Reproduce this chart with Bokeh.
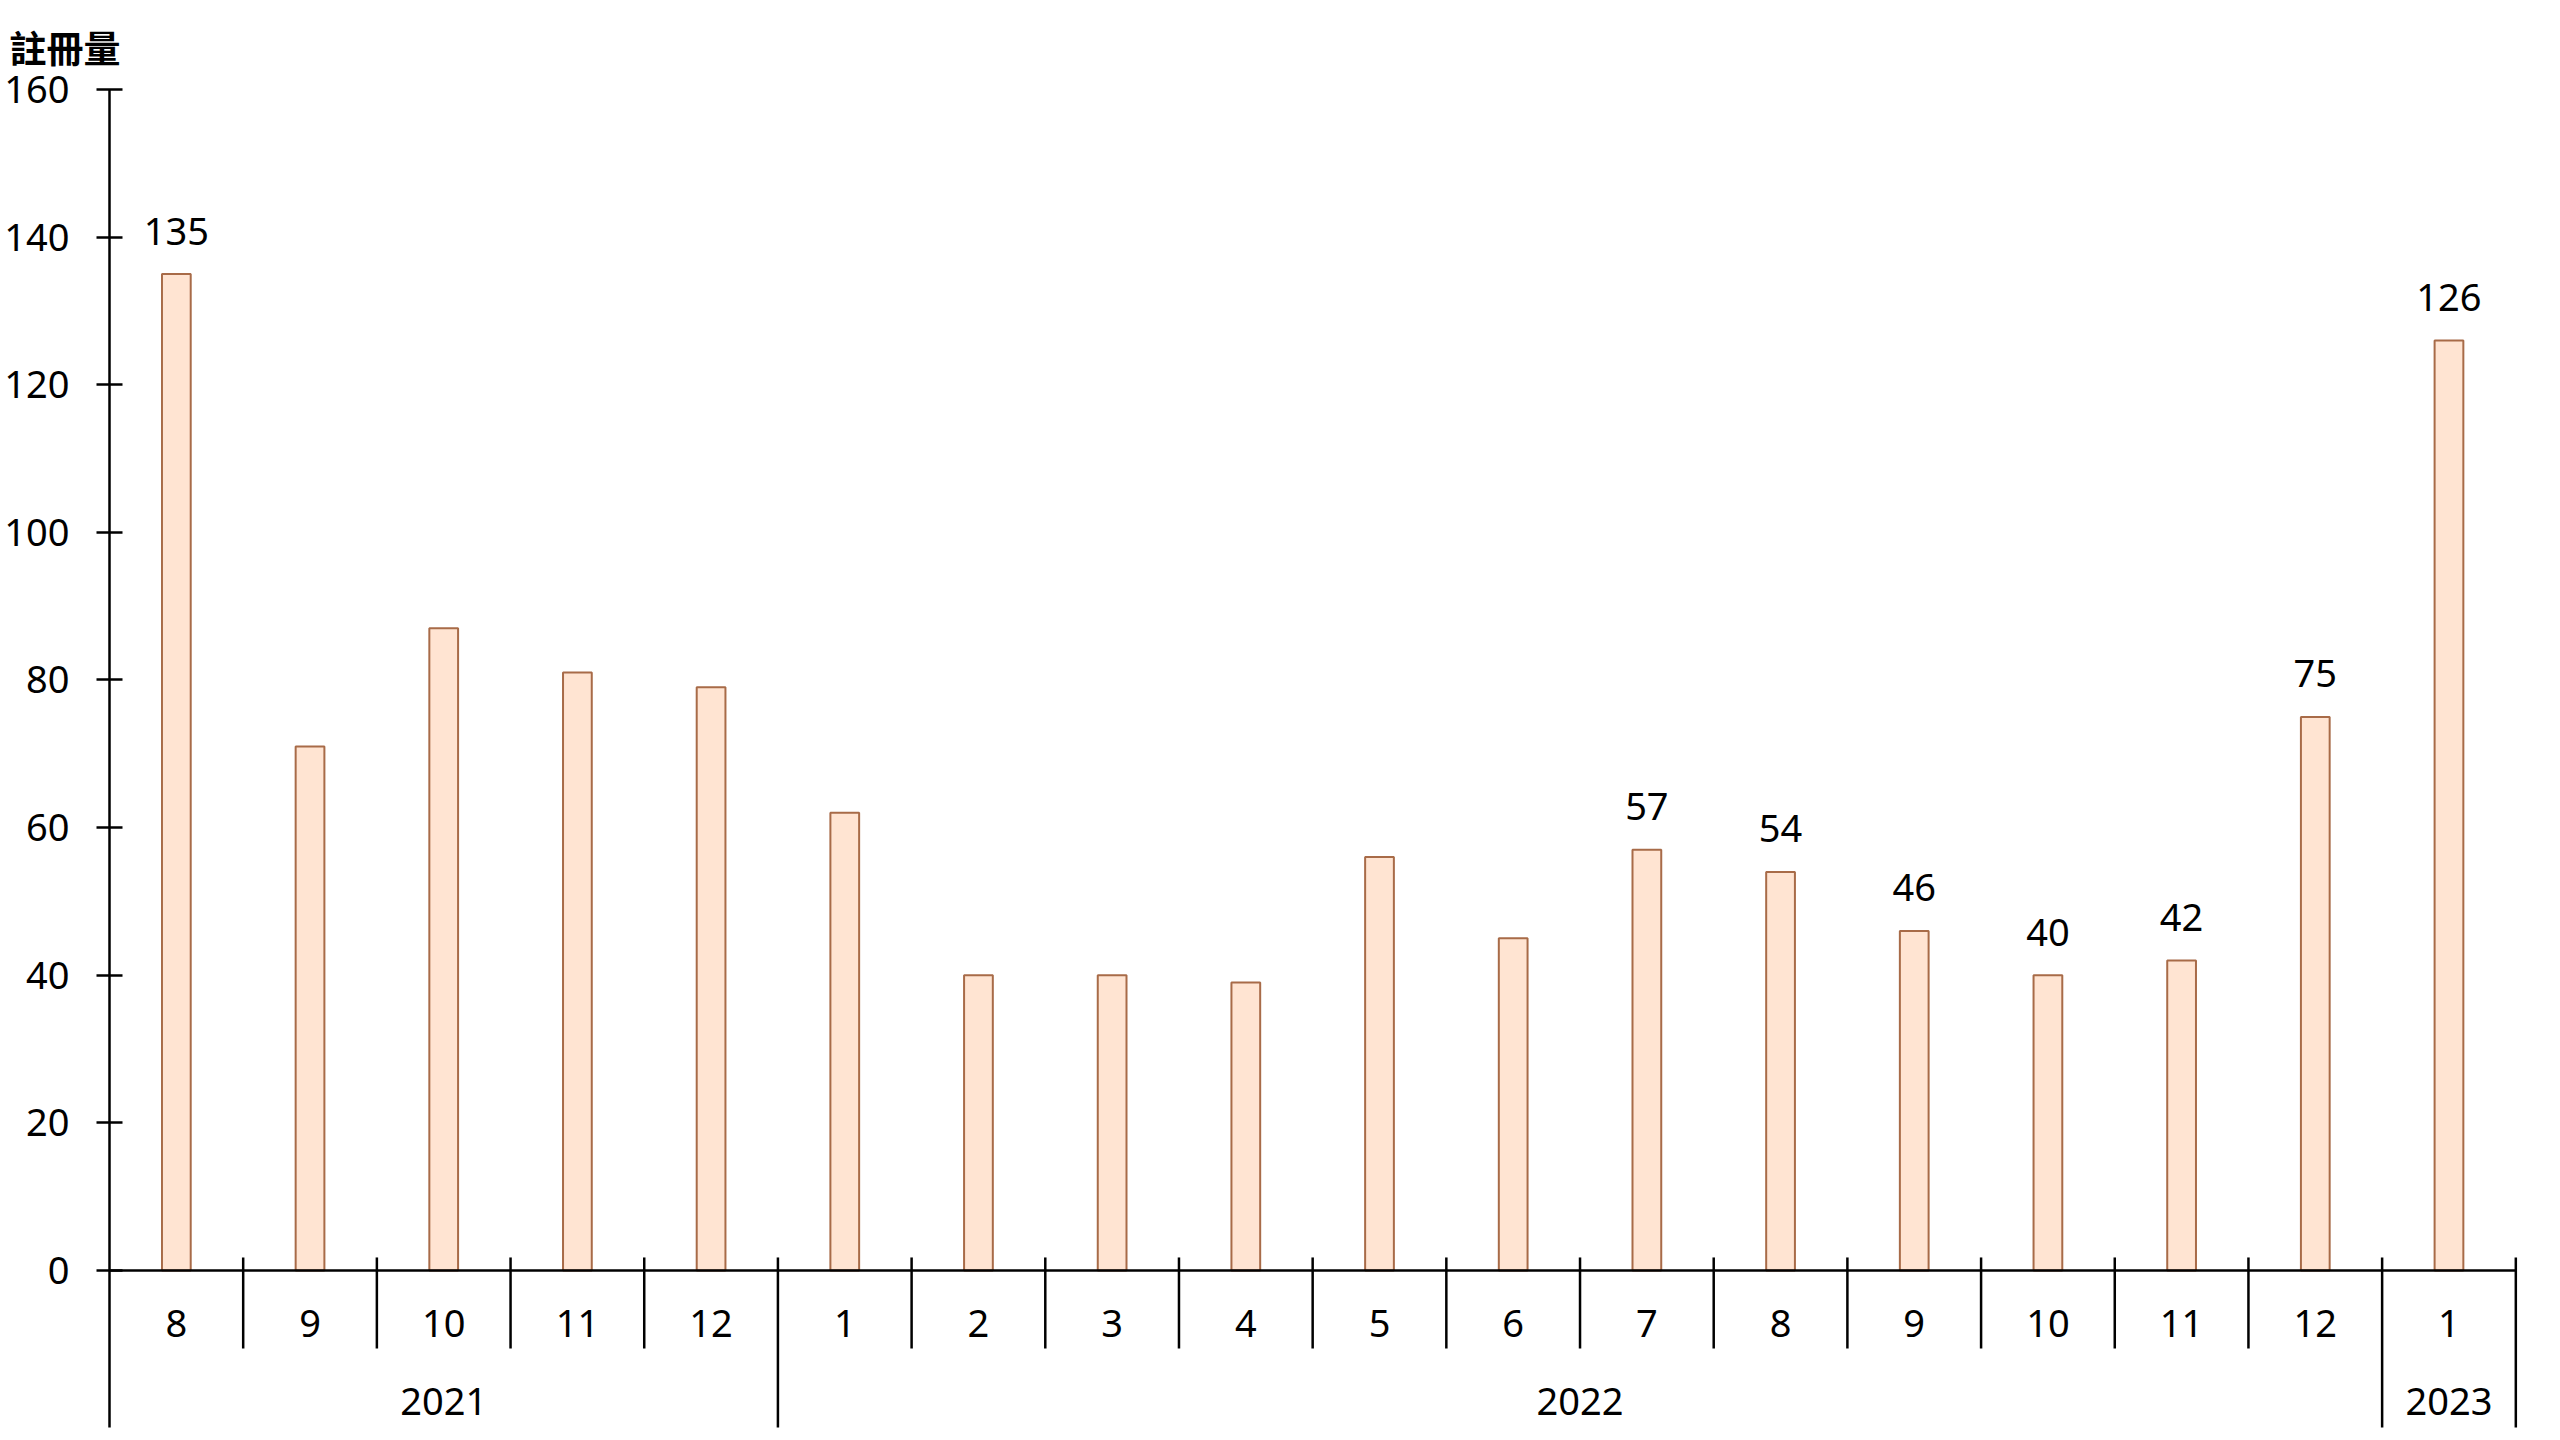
from bokeh.plotting import figure
from bokeh.models import Range1d, FixedTicker, Title
from bokeh.core.properties import value
from bokeh.embed import file_html
from bokeh.resources import INLINE

# ---- data ----
months = ["8", "9", "10", "11", "12", "1", "2", "3", "4", "5", "6", "7", "8", "9", "10", "11", "12", "1"]
years = ["2021"] * 5 + ["2022"] * 12 + ["2023"]
counts = [135, 71, 87, 81, 79, 62, 40, 40, 39, 56, 45, 57, 54, 46, 40, 42, 75, 126]
shown_labels = ["135", "", "", "", "", "", "", "", "", "", "", "57", "54", "46", "40", "42", "75", "126"]
y_ticks = [0, 20, 40, 60, 80, 100, 120, 140, 160]
axis_title = "註冊量"

FONT = "Noto Sans"
FS = "38px"

W, H = 2532, 1436
BL, BR, BT, BB = 109, 10, 89, 4
n = len(counts)
x_end = n + 0.05
frame_w = W - BL - BR
frame_h = H - BT - BB
PX_X = frame_w / x_end
PX_Y = 7.381
y_start = 160 - frame_h / PX_Y
y_axis_bottom = -157 / PX_Y

xs = [i + 0.5 for i in range(n)]

p = figure(width=W, height=H,
           x_range=Range1d(0, x_end), y_range=Range1d(y_start, 160),
           output_backend="svg", toolbar_location=None, x_axis_location=None,
           min_border_left=BL, min_border_right=BR, min_border_top=BT, min_border_bottom=BB)
p.outline_line_color = None
p.xgrid.visible = False
p.ygrid.visible = False
p.background_fill_color = "white"

p.title = Title(text=axis_title, align="left", offset=-100, standoff=28, vertical_align="top",
                text_font="Noto Sans CJK TC", text_font_size="37px", text_font_style="bold",
                text_color="black")

ax = p.yaxis[0]
ax.ticker = FixedTicker(ticks=y_ticks)
ax.bounds = (y_axis_bottom, 160)
ax.axis_line_width = 2.5
ax.axis_line_color = "black"
ax.major_tick_line_width = 2.5
ax.major_tick_line_color = "black"
ax.major_tick_in = 13
ax.major_tick_out = 13
ax.minor_tick_line_color = None
ax.major_label_standoff = 27
ax.major_label_text_font = FONT
ax.major_label_text_font_size = FS
ax.major_label_text_color = "black"

# bars
p.vbar(x=xs, top=counts, bottom=0, width=0.215,
       fill_color="#FFE4D2", line_color="#A86B48", line_width=2)

# x axis baseline
p.segment(x0=[0], y0=[0], x1=[n], y1=[0], line_color="black", line_width=2.5)

# separators between months / years
bounds_year = []
for i in range(1, n):
    if years[i] != years[i - 1]:
        bounds_year.append(i)
bounds_year.append(n)
short = [i for i in range(1, n) if i not in bounds_year]
top_sep = 13 / PX_Y
p.segment(x0=short, y0=[top_sep] * len(short), x1=short, y1=[-78 / PX_Y] * len(short),
          line_color="black", line_width=2.5)
p.segment(x0=bounds_year, y0=[top_sep] * len(bounds_year), x1=bounds_year,
          y1=[y_axis_bottom] * len(bounds_year), line_color="black", line_width=2.5)

# month labels
p.text(x=xs, y=[-53 / PX_Y] * n, text=months, text_align="center", text_baseline="middle",
       text_font=value(FONT), text_font_size=FS, text_color="black")

# year labels
year_names, year_centers = [], []
start = 0
for b in bounds_year:
    year_names.append(years[start])
    year_centers.append((start + b) / 2)
    start = b
p.text(x=year_centers, y=[-131 / PX_Y] * len(year_names), text=year_names,
       text_align="center", text_baseline="middle",
       text_font=value(FONT), text_font_size=FS, text_color="black")

# value labels
lx = [xs[i] for i in range(n) if shown_labels[i]]
ly = [counts[i] + 43 / PX_Y for i in range(n) if shown_labels[i]]
lt = [s for s in shown_labels if s]
p.text(x=lx, y=ly, text=lt, text_align="center", text_baseline="middle",
       text_font=value(FONT), text_font_size=FS, text_color="black")

open("out.html", "w").write(file_html(p, INLINE))
